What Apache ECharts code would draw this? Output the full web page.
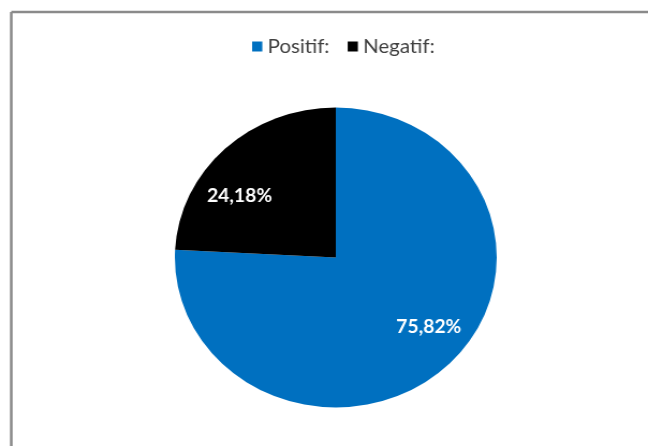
<!DOCTYPE html>
<html>
<head>
<meta charset="utf-8">
<script src="https://cdn.jsdelivr.net/npm/echarts@6/dist/echarts.min.js"></script>
<style>
	html, body { margin: 0; padding: 0; background: #fff; overflow: hidden; }
	/* the reference pie is a bit wider than tall, so stretch the whole chart */
	#main { position: absolute; left: 0; top: 0; width: 604px; height: 446px; transform: scaleX(1.0728); transform-origin: 0 0; }
</style>
</head>
<body>
<div id="main"></div>
<script>
var categories = ['Positif:', 'Negatif:'];
var values = [75.82, 24.18];
var colors = ['#0070C0', '#000000'];

var myChart = echarts.init(document.getElementById('main'));

var pieData = [];
for (var i = 0; i < categories.length; i++) {
	pieData.push({ name: categories[i], value: values[i], itemStyle: { color: colors[i] } });
}

// Excel puts the labels further out than the ECharts midpoint
var labelShift = [[33, 13], [-36, -5]];

var option = {
	animation: false,
	backgroundColor: '#ffffff',
	// frame of the cropped chart area: only left and top edges are visible
	graphic: [{
		type: 'line',
		shape: { x1: 10.5, y1: 12, x2: 10.5, y2: 446 },
		style: { stroke: '#8a8a8a', lineWidth: 2.5 },
		silent: true
	}, {
		type: 'line',
		shape: { x1: 10.5, y1: 12, x2: 604, y2: 12 },
		style: { stroke: '#8a8a8a', lineWidth: 2.5 },
		silent: true
	}],
	legend: {
		data: categories,
		top: 32,
		left: 230,
		icon: 'rect',
		itemWidth: 9.5,
		itemHeight: 10,
		itemGap: 17,
		textStyle: {
			fontFamily: 'Lato',
			fontSize: 19,
			color: '#404040'
		}
	},
	series: [{
		type: 'pie',
		center: [313, 257.5],
		radius: [0, 150],
		startAngle: 90,
		clockwise: true,
		data: pieData,
		label: {
			show: true,
			position: 'inside',
			fontFamily: 'Lato',
			fontSize: 18,
			fontWeight: 'bold',
			color: '#ffffff',
			formatter: function(p) {
				return p.value.toFixed(2).replace('.', ',') + '%';
			}
		},
		labelLayout: function(p) {
			return { dx: labelShift[p.dataIndex][0], dy: labelShift[p.dataIndex][1] };
		},
		labelLine: { show: false },
		emphasis: { disabled: true }
	}]
};
myChart.setOption(option);
</script>
</body>
</html>
